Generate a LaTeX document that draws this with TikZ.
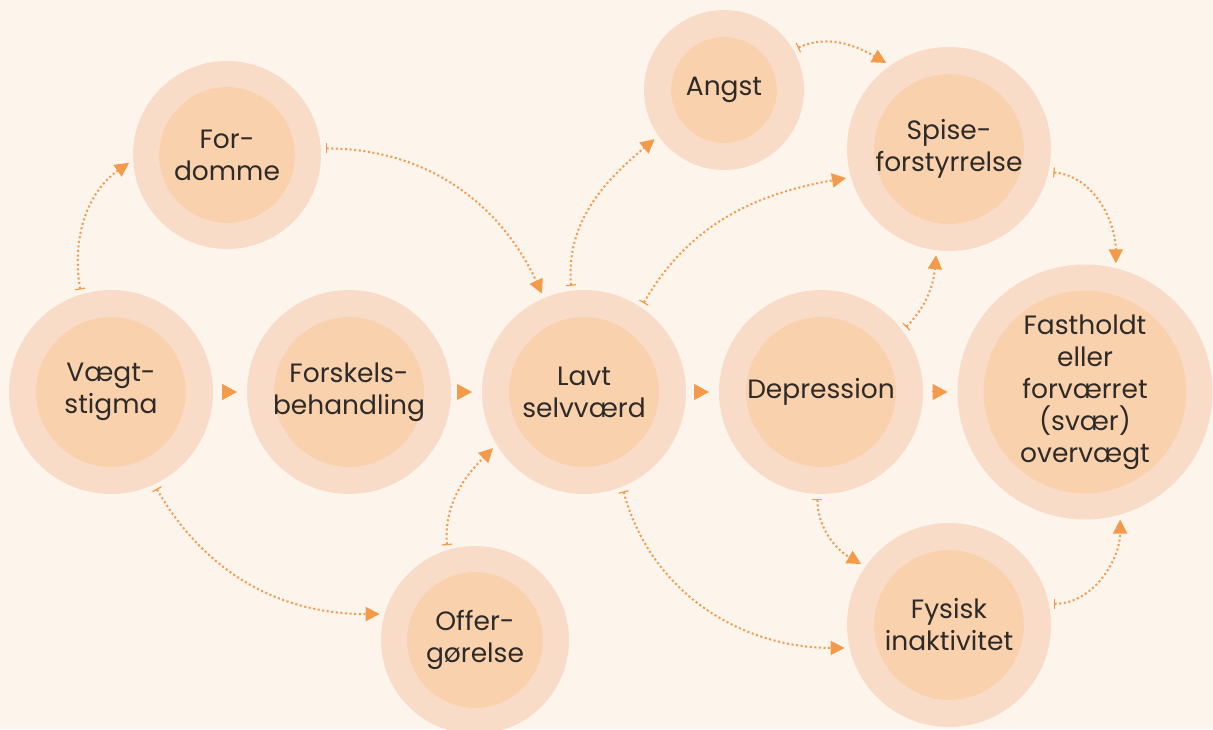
\documentclass[tikz,border=0pt]{standalone}
\usepackage{fontspec}
\setmainfont{Poppins}
\usetikzlibrary{arrows.meta, positioning}
\definecolor{bgcream}{HTML}{FDF4EC}
\definecolor{ringout}{HTML}{F9DCC7}
\definecolor{ringin}{HTML}{FAD1AD}
\definecolor{arroworange}{HTML}{F39A4B}
\definecolor{ringtext}{HTML}{2E2A27}
\tikzstyle{ring} = [circle, draw=ringout, fill=ringin, line width=27pt, minimum size=177pt, inner sep=0pt, align=center, text=ringtext, font=\fontsize{26.5}{32}\selectfont]
\tikzstyle{smallring} = [ring, line width=26pt, minimum size=162pt]
\tikzstyle{flow} = [draw=arroworange, fill=arroworange, line width=1pt, -{Triangle[length=15pt, width=16pt]}, shorten <=9pt, shorten >=10pt]
\tikzstyle{link} = [draw=arroworange, line width=2pt, dash pattern=on 2pt off 2.6pt, {Bar[width=10pt, line width=1.2pt]}-{Triangle[length=14pt, width=14pt]}, shorten <=5pt, shorten >=5pt]

\begin{document}
\begin{tikzpicture}[x=1pt, y=1pt, node distance=237pt]
        \fill[bgcream] (0,0) rectangle (1213,729);
        \useasboundingbox (0,0) rectangle (1213,729);

        \node [ring] (vaegt) at (111,337) {Vægt-\\stigma};
        \node [ring, right of=vaegt, node distance=238pt] (forskels) {Forskels-\\behandling};
        \node [ring, right of=forskels, node distance=235pt] (lavt) {Lavt\\selvværd};
        \node [ring, right of=lavt] (depr) {Depression};
        \node [ring, right of=depr, node distance=264pt, line width=26pt, minimum size=229pt] (fast) {Fastholdt\\eller\\forværret\\(svær)\\overvægt};
        \node [smallring] (fordomme) at (227,574) {For-\\domme};
        \node [ring, line width=27pt, minimum size=133pt] (angst) at (724,639) {Angst};
        \node [ring] (spise) at (949,580) {Spise-\\forstyrrelse};
        \node [smallring] (offer) at (475,89) {Offer-\\gørelse};
        \node [ring] (fysisk) at (949,104) {Fysisk\\inaktivitet};

        \path [flow] (vaegt) -- (forskels);
        \path [flow] (forskels) -- (lavt);
        \path [flow] (lavt) -- (depr);
        \path [flow] (depr) -- (fast);

        \draw [link] (vaegt.107) to[out=100, in=215] (fordomme.183);
        \draw [link] (fordomme.4) to[out=0, in=115] (lavt.113);
        \draw [link] (vaegt.295) to[out=-60, in=180] (offer.164);
        \draw [link] (offer.107) to[out=95, in=225] (lavt.211);
        \draw [link] (lavt.97) to[out=95, in=220] (angst.215);
        \draw [link] (lavt.56) to[out=60, in=190] (spise.196);
        \draw [link] (angst.30) to[out=25, in=150] (spise.125);
        \draw [link] (spise.-13) to[out=-5, in=90] (fast.76);
        \draw [link] (depr.37) to[out=45, in=-95] (spise.263);
        \draw [link] (lavt.-68) to[out=-75, in=180] (fysisk.193); % long way round to the bottom
        \draw [link] (depr.268) to[out=-90, in=150] (fysisk.145);
        \draw [link] (fysisk.12) to[out=0, in=-90] (fast.286);
    \end{tikzpicture}
\end{document}
